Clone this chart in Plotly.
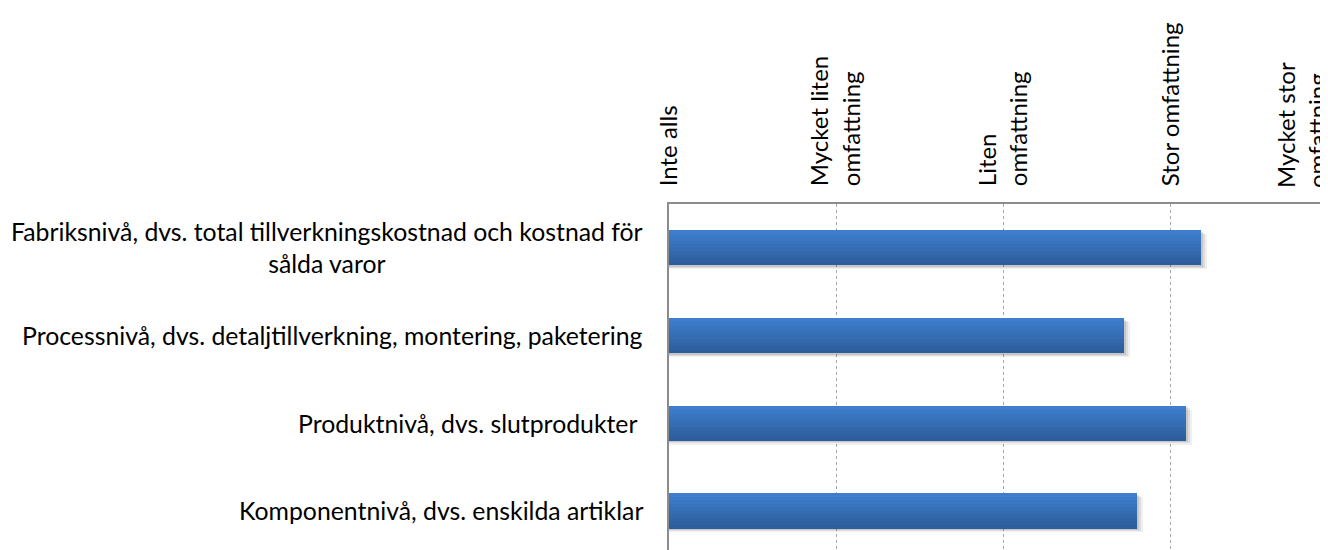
import plotly.graph_objects as go

# ---- data ----
categories = [
    "Komponentnivå, dvs. enskilda artiklar",
    "Produktnivå, dvs. slutprodukter ",
    "Processnivå, dvs. detaljtillverkning, montering, paketering",
    "Fabriksnivå, dvs. total tillverkningskostnad och kostnad för<br>sålda varor",
]
values = [3.80, 4.09, 3.72, 4.18]
tick_vals = [1, 2, 3, 4, 5]
tick_labels = [
    "Inte alls",
    "Mycket liten<br>omfattning",
    "Liten<br>omfattning",
    "Stor omfattning",
    "Mycket stor<br>omfattning",
]

# ---- style ----
FONT = "Lato, Open Sans, sans-serif"
x_range = [1, 4.94]
bar_width = 0.40
n_strips = 10
top_rgb = (62, 126, 205)
bot_rgb = (45, 93, 156)

fig = go.Figure()

# soft shadow under the bars
for alpha, dx, dy in [(0.06, 0.035, 0.045), (0.08, 0.022, 0.03), (0.10, 0.012, 0.018)]:
    fig.add_trace(go.Bar(
        y=categories, x=[v + dx for v in values], orientation="h",
        width=bar_width, offset=-bar_width / 2 - dy,
        marker=dict(color=f"rgba(0,0,0,{alpha})", line=dict(width=0)),
        showlegend=False, hoverinfo="skip",
    ))

# gradient bars built from horizontal strips
sw = bar_width / n_strips
for i in range(n_strips):
    t = i / (n_strips - 1)  # 0 = top, 1 = bottom
    r = round(top_rgb[0] + (bot_rgb[0] - top_rgb[0]) * t)
    g = round(top_rgb[1] + (bot_rgb[1] - top_rgb[1]) * t)
    b = round(top_rgb[2] + (bot_rgb[2] - top_rgb[2]) * t)
    fig.add_trace(go.Bar(
        y=categories, x=values, orientation="h",
        width=sw * 1.02, offset=bar_width / 2 - (i + 1) * sw,
        marker=dict(color=f"rgb({r},{g},{b})", line=dict(width=0)),
        showlegend=False, hoverinfo="skip",
    ))

# category labels (centered multi-line, right aligned block)
for c in categories:
    fig.add_annotation(
        x=0, xref="paper", y=c, yref="y", text=c, showarrow=False,
        xanchor="right", yanchor="middle", align="center", xshift=-24,
        font=dict(family=FONT, size=24.8, color="#000"),
    )

# last tick label lies beyond the visible range; Excel pushes it in at the edge
fig.add_annotation(
    x=1, xref="paper", y=1, yref="paper",
    text=tick_labels[-1], showarrow=False, textangle=-90,
    xanchor="right", yanchor="bottom", xshift=5, yshift=14, align="left",
    font=dict(family=FONT, size=24, color="#000"),
)

fig.update_layout(
    width=1320, height=542,
    margin=dict(l=661, r=0, t=196, b=0),
    plot_bgcolor="white", paper_bgcolor="white",
    barmode="overlay", bargap=0,
    xaxis=dict(
        side="top", range=x_range, tickmode="array",
        tickvals=tick_vals[:-1], ticktext=tick_labels[:-1], tickangle=-90,
        tickfont=dict(family=FONT, size=24, color="#000"),
        showgrid=True, gridcolor="#a8a8a8", griddash="dot", gridwidth=1,
        showline=True, linecolor="#8c8c8c", linewidth=2,
        ticks="", ticklabelstandoff=11, zeroline=False,
    ),
    yaxis=dict(
        type="category", categoryorder="array", categoryarray=categories,
        range=[-0.445, 3.5], showticklabels=False, ticks="",
        showgrid=False, showline=True, linecolor="#8c8c8c", linewidth=2,
        zeroline=False,
    ),
)

fig.write_html("out.html")
